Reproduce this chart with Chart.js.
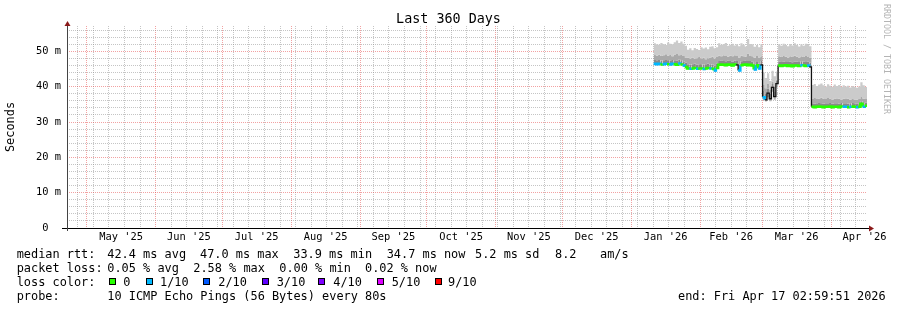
<!DOCTYPE html>
<html>
<head>
<meta charset="utf-8">
<title>Last 360 Days</title>
<script src="https://cdn.jsdelivr.net/npm/chart.js@4.4.1/dist/chart.umd.min.js"></script>
<style>
  body { margin: 0; background: #fff; }
  #wrap { position: relative; width: 897px; height: 310px; overflow: hidden;
          font-family: 'DejaVu Sans Mono', monospace; font-size: 11.9px; color: #000; }
  #chart { position: absolute; left: 0; top: 0; }
  #title { position: absolute; left: 0; top: 11px; width: 897px; text-align: center;
           font-size: 13.4px; line-height: 16px; }
  #credit { position: absolute; left: 882px; top: 4px; writing-mode: vertical-rl;
            font-size: 8.3px; line-height: 10px; color: #b4b4b4; white-space: nowrap; }
  .t { position: absolute; white-space: pre; line-height: 14px; }
  .sw { position: absolute; top: 278px; width: 5px; height: 5px; border: 1px solid #000; }
</style>
</head>
<body>
<div id="wrap">
  <canvas id="chart" width="897" height="310"></canvas>
  <div id="title">Last 360 Days</div>
  <div id="credit">RRDTOOL / TOBI OETIKER</div>

  <div class="t" style="left:16.7px;top:247px">median rtt:</div>
  <div class="t" style="left:107.3px;top:247px">42.4 ms avg</div>
  <div class="t" style="left:200px;top:247px">47.0 ms max</div>
  <div class="t" style="left:293.3px;top:247px">33.9 ms min</div>
  <div class="t" style="left:386.7px;top:247px">34.7 ms now</div>
  <div class="t" style="left:475px;top:247px">5.2 ms sd</div>
  <div class="t" style="left:555px;top:247px">8.2</div>
  <div class="t" style="left:600px;top:247px">am/s</div>

  <div class="t" style="left:16.7px;top:261px">packet loss:</div>
  <div class="t" style="left:107.3px;top:261px">0.05 % avg</div>
  <div class="t" style="left:193.3px;top:261px">2.58 % max</div>
  <div class="t" style="left:279.3px;top:261px">0.00 % min</div>
  <div class="t" style="left:365px;top:261px">0.02 % now</div>

  <div class="t" style="left:16.7px;top:275px">loss color:</div>
  <div id="lossLegend"></div>

  <div class="t" style="left:16.7px;top:289px">probe:</div>
  <div class="t" style="left:107.3px;top:289px">10 ICMP Echo Pings (56 Bytes) every 80s</div>
  <div class="t" style="left:678px;top:289px">end: Fri Apr 17 02:59:51 2026</div>
</div>
<script>
// daily values, day 264 of the 360-day window (early Jan '26) through day 360
const firstDay = 264;

const median = [
  46.5, 46.4, 46.5, 46.3, 46.4, 46.5, 46.4, 46.3, 46.5, 46.4, 46.2, 46.6, 46.3, 46.0, 45.6,
  45.2, 45.1, 45.2, 45.3, 45.1, 45.2, 45.2, 45.0, 45.2, 45.3, 45.2, 45.1, 44.6, 45.3,
  46.2, 46.3, 46.2, 46.1, 46.3, 46.2, 46.0, 46.3, 46.2, 44.6, 46.1, 46.2, 46.3, 46.1, 46.2, 46.0, 44.9, 46.1, 45.2, 46.2,
  37.0, 36.3, 38.2, 36.6, 39.8, 37.2, 40.9,
  46.0, 45.9, 46.0, 46.1, 45.9, 46.0, 45.8, 46.0, 46.0, 45.9, 46.1, 46.0, 45.9, 46.0, 45.6,
  34.3, 34.2, 34.3, 34.4, 34.3, 34.2, 34.3, 34.3, 34.4, 34.2, 34.3, 34.3, 34.2, 34.4, 34.3, 34.3, 34.2, 34.3, 34.4, 34.3, 34.2, 34.3, 35.2, 34.3, 34.6, 34.8
];

// lost pings out of 10
const loss = [
  1, 1, 1, 0, 1, 1, 0, 1, 1, 0, 0, 1, 0, 1, 0,
  0, 1, 0, 0, 1, 0, 0, 1, 0, 0, 1, 0, 1, 0,
  0, 0, 0, 0, 0, 0, 0, 0, 1, 1, 0, 0, 0, 0, 0, 0, 1, 0, 1, 0,
  1, 2, 1, 1, 0, 1, 1,
  0, 0, 0, 0, 0, 0, 0, 0, 0, 0, 1, 0, 0, 1, 1,
  0, 0, 0, 0, 0, 0, 0, 0, 0, 0, 0, 0, 0, 0, 1, 1, 0, 1, 0, 0, 1, 0, 0, 1, 0, 0
];

// smoke: slowest ping
const pingMax = [
  52.3, 52.0, 51.9, 52.4, 52.1, 51.8, 52.5, 52.2, 52.0, 52.6, 53.1, 52.4, 52.8, 52.2, 51.6,
  50.5, 50.9, 50.3, 51.0, 50.7, 50.4, 51.2, 50.8, 51.1, 50.6, 51.3, 51.5, 50.9, 51.2,
  52.3, 51.8, 52.1, 52.4, 51.6, 51.9, 52.2, 51.7, 52.0, 51.5, 52.3, 51.9, 51.4, 53.5, 52.1, 52.0, 51.3, 51.8, 51.2, 52.0,
  44.0, 42.5, 43.8, 41.6, 44.5, 43.0, 44.3,
  52.0, 51.6, 52.2, 51.8, 51.5, 52.1, 51.7, 52.3, 51.9, 51.4, 52.0, 51.6, 52.2, 51.8, 51.5,
  40.5, 40.8, 40.2, 40.6, 40.9, 40.4, 40.1, 40.7, 40.3, 40.0, 40.6, 40.2, 40.5, 39.9, 40.4, 40.1, 40.3, 39.8, 40.2, 40.0, 39.7, 40.1, 41.3, 40.4, 39.9, 40.6
];

const pingHigh = [
  49.0, 48.8, 49.1, 48.7, 48.9, 49.2, 48.8, 49.0, 48.6, 49.1, 49.3, 48.9, 49.0, 48.7, 48.3,
  48.2, 48.0, 48.3, 47.9, 48.1, 48.4, 48.0, 48.2, 47.8, 48.1, 48.3, 48.5, 48.0, 48.4,
  48.8, 48.6, 48.9, 48.7, 48.5, 48.8, 48.6, 48.9, 48.7, 48.3, 48.8, 48.6, 48.5, 49.4, 48.7, 48.6, 48.2, 48.7, 48.3, 48.6,
  40.5, 39.6, 40.8, 39.2, 41.5, 40.1, 42.0,
  48.6, 48.4, 48.7, 48.5, 48.3, 48.6, 48.4, 48.8, 48.5, 48.3, 48.6, 48.4, 48.7, 48.5, 48.2,
  36.7, 36.8, 36.5, 36.7, 36.9, 36.6, 36.5, 36.8, 36.6, 36.4, 36.7, 36.5, 36.6, 36.4, 36.6, 36.5, 36.6, 36.3, 36.5, 36.4, 36.3, 36.5, 37.1, 36.6, 36.5, 36.8
];

const pingMid = [
  47.6, 47.5, 47.6, 47.4, 47.5, 47.6, 47.5, 47.4, 47.6, 47.5, 47.4, 47.7, 47.5, 47.2, 46.8,
  46.4, 46.3, 46.4, 46.5, 46.3, 46.4, 46.4, 46.2, 46.4, 46.5, 46.4, 46.3, 46.0, 46.5,
  47.3, 47.4, 47.3, 47.2, 47.4, 47.3, 47.1, 47.4, 47.3, 46.2, 47.2, 47.3, 47.4, 47.3, 47.3, 47.1, 46.3, 47.2, 46.5, 47.3,
  38.8, 38.0, 39.5, 38.1, 40.8, 38.7, 41.8,
  47.1, 47.0, 47.1, 47.2, 47.0, 47.1, 46.9, 47.1, 47.1, 47.0, 47.2, 47.1, 47.0, 47.1, 46.8,
  35.3, 35.2, 35.3, 35.4, 35.3, 35.2, 35.3, 35.3, 35.4, 35.2, 35.3, 35.3, 35.2, 35.4, 35.3, 35.3, 35.2, 35.3, 35.4, 35.3, 35.2, 35.3, 35.9, 35.3, 35.5, 35.6
];

// smoke: fastest ping
const pingMin = [
  46.2, 46.1, 46.2, 46.0, 46.1, 46.2, 46.1, 46.0, 46.2, 46.1, 45.9, 46.3, 46.0, 45.7, 45.3,
  44.9, 44.8, 44.9, 45.0, 44.8, 44.9, 44.9, 44.7, 44.9, 45.0, 44.9, 44.8, 44.2, 45.0,
  45.9, 46.0, 45.9, 45.8, 46.0, 45.9, 45.7, 46.0, 45.9, 44.2, 45.8, 45.9, 46.0, 45.8, 45.9, 45.7, 44.5, 45.8, 44.8, 45.9,
  36.2, 35.8, 37.0, 35.9, 38.6, 36.3, 39.8,
  45.7, 45.6, 45.7, 45.8, 45.6, 45.7, 45.5, 45.7, 45.7, 45.6, 45.8, 45.7, 45.6, 45.7, 45.3,
  34.0, 33.9, 34.0, 34.1, 34.0, 33.9, 34.0, 34.0, 34.1, 33.9, 34.0, 34.0, 33.9, 34.1, 34.0, 34.0, 33.9, 34.0, 34.1, 34.0, 33.9, 34.0, 34.8, 34.0, 34.3, 34.5
];

const lossSteps = [0, 1, 2, 3, 4, 5, 9];
const lossLabels = ['0', '1/10', '2/10', '3/10', '4/10', '5/10', '9/10'];
const lossColors = ['#26ff00', '#00b8ff', '#0059ff', '#5e00ff', '#7e00ff', '#dd00ff', '#ff0000'];

const monthLabels = ["May '25", "Jun '25", "Jul '25", "Aug '25", "Sep '25", "Oct '25",
                     "Nov '25", "Dec '25", "Jan '26", "Feb '26", "Mar '26", "Apr '26"];
const yTickLabels = { 0: '0  ', 10: '10 m', 20: '20 m', 30: '30 m', 40: '40 m', 50: '50 m' };

const FONT = "'DejaVu Sans Mono', monospace";
const GRID_MINOR = 'rgba(140,140,140,0.5)';
const GRID_MAJOR = 'rgba(230,70,70,0.5)';

// legend swatches
const swatchX = [109, 146, 203.3, 261.7, 318.3, 376.7, 435];
const swatchTextX = [123.3, 160, 218.3, 276.7, 333.3, 391.7, 448];
const lossLegend = document.getElementById('lossLegend');
lossLabels.forEach((lbl, i) => {
    const sw = document.createElement('div');
    sw.className = 'sw';
    sw.style.left = swatchX[i] + 'px';
    sw.style.background = lossColors[i];
    lossLegend.appendChild(sw);
    const t = document.createElement('div');
    t.className = 't';
    t.style.left = swatchTextX[i] + 'px';
    t.style.top = '275px';
    t.textContent = lbl;
    lossLegend.appendChild(t);
});

function lossColor(n) {
    let idx = 0;
    lossSteps.forEach((s, i) => { if (n >= s) idx = i; });
    return lossColors[idx];
}

const pts = arr => arr.map((v, i) => ({ x: firstDay + i, y: v }));

// time axis: window ends Fri Apr 17 02:59:51 2026, 360 days long
const startMs = Date.UTC(2025, 3, 22, 2, 59, 51);
const dayOf = ms => (ms - startMs) / 86400000;

function buildXTicks() {
    const ticks = [];
    const monthStarts = [];
    for (let m = 4; m <= 16; m++) monthStarts.push(dayOf(Date.UTC(2025, m, 1)));
    monthStarts.forEach(d => { if (d <= 360) ticks.push({ value: d, kind: 'month' }); });
    for (let w = Date.UTC(2025, 3, 27); dayOf(w) <= 360; w += 7 * 86400000) {
        const d = dayOf(w);
        if (!monthStarts.some(m => Math.abs(m - d) < 0.01)) ticks.push({ value: d, kind: 'week' });
    }
    monthLabels.forEach((lbl, i) => {
        ticks.push({ value: (monthStarts[i] + monthStarts[i + 1]) / 2, kind: 'label', text: lbl });
    });
    return ticks.sort((a, b) => a.value - b.value);
}

const axisPlugin = {
    id: 'rrdAxes',
    afterDraw(chart) {
        const { ctx, chartArea: a } = chart;
        ctx.save();
        ctx.lineWidth = 1;
        ctx.strokeStyle = '#000';
        ctx.beginPath();
        ctx.moveTo(a.left - 5, a.bottom + 0.5);
        ctx.lineTo(a.right + 3, a.bottom + 0.5);
        ctx.stroke();
        ctx.strokeStyle = '#444';
        ctx.beginPath();
        ctx.moveTo(a.left + 0.5, a.top - 1);
        ctx.lineTo(a.left + 0.5, a.bottom + 3);
        ctx.stroke();
        ctx.fillStyle = '#8b1a1a';
        ctx.beginPath();
        ctx.moveTo(a.left - 2.5, a.top);
        ctx.lineTo(a.left + 3.5, a.top);
        ctx.lineTo(a.left + 0.5, a.top - 5);
        ctx.closePath();
        ctx.fill();
        ctx.beginPath();
        ctx.moveTo(a.right + 2, a.bottom - 2.5);
        ctx.lineTo(a.right + 2, a.bottom + 3.5);
        ctx.lineTo(a.right + 7, a.bottom + 0.5);
        ctx.closePath();
        ctx.fill();
        ctx.restore();
    }
};

const smoke = (data, fill, color) => ({
    data: pts(data),
    fill: fill,
    backgroundColor: color,
    borderWidth: 0,
    pointRadius: 0,
    stepped: true,
    order: 1
});

const isJump = c => Math.abs(c.p1.parsed.y - c.p0.parsed.y) > 1.5;

new Chart(document.getElementById('chart'), {
    type: 'line',
    data: {
        datasets: [
            smoke(pingMax, 1, '#cbcbcb'),
            smoke(pingHigh, 2, '#a9a9a9'),
            smoke(pingMid, 4, '#8a8a8a'),
            smoke(pingMin, 4, '#b8b8b8'),
            {
                data: pts(median),
                fill: false,
                borderWidth: 2.5,
                borderColor: '#26ff00',
                pointRadius: 0,
                stepped: true,
                order: 0,
                segment: {
                    borderColor: c => isJump(c) ? '#111' : lossColor(loss[c.p0DataIndex]),
                    borderWidth: c => isJump(c) ? 1.3 : 2.5
                }
            }
        ]
    },
    options: {
        responsive: false,
        devicePixelRatio: 1,
        animation: false,
        events: [],
        layout: { padding: { top: 26, right: 30, bottom: 62, left: 0 } },
        plugins: { legend: { display: false }, tooltip: { enabled: false }, title: { display: false } },
        scales: {
            x: {
                type: 'linear',
                min: 0,
                max: 360,
                z: 1,
                afterBuildTicks: s => { s.ticks = buildXTicks(); },
                afterFit: s => { s.height = 20; s.paddingLeft = 0; s.paddingRight = 0; },
                border: { display: false, dash: [1, 1] },
                grid: {
                    drawTicks: false,
                    lineWidth: 1,
                    color: c => c.tick.kind === 'month' ? GRID_MAJOR
                        : c.tick.kind === 'week' ? GRID_MINOR : 'rgba(0,0,0,0)'
                },
                ticks: {
                    autoSkip: false,
                    maxRotation: 0,
                    minRotation: 0,
                    padding: 3,
                    color: '#000',
                    font: { family: FONT, size: 10.4 },
                    callback: (v, i, ticks) => ticks[i].kind === 'label' ? ticks[i].text : ''
                }
            },
            y: {
                type: 'linear',
                min: 0,
                max: 57.2,
                z: 1,
                afterBuildTicks: s => {
                    const t = [];
                    for (let v = 0; v <= 56; v += 2) t.push({ value: v });
                    s.ticks = t;
                },
                afterFit: s => { s.width = 67; s.paddingTop = 0; s.paddingBottom = 0; },
                border: { display: false, dash: [1, 1] },
                grid: {
                    drawTicks: false,
                    lineWidth: 1,
                    color: c => c.tick.value === 0 ? 'rgba(0,0,0,0)'
                        : c.tick.value % 10 === 0 ? GRID_MAJOR : GRID_MINOR
                },
                ticks: {
                    autoSkip: false,
                    padding: 6,
                    color: '#000',
                    font: { family: FONT, size: 10.4 },
                    callback: v => yTickLabels[v] !== undefined ? yTickLabels[v] : ''
                },
                title: {
                    display: true,
                    text: 'Seconds',
                    color: '#000',
                    font: { family: FONT, size: 11.9 },
                    padding: { top: 3.5, bottom: 0 }
                }
            }
        }
    },
    plugins: [axisPlugin]
});
</script>
</body>
</html>
